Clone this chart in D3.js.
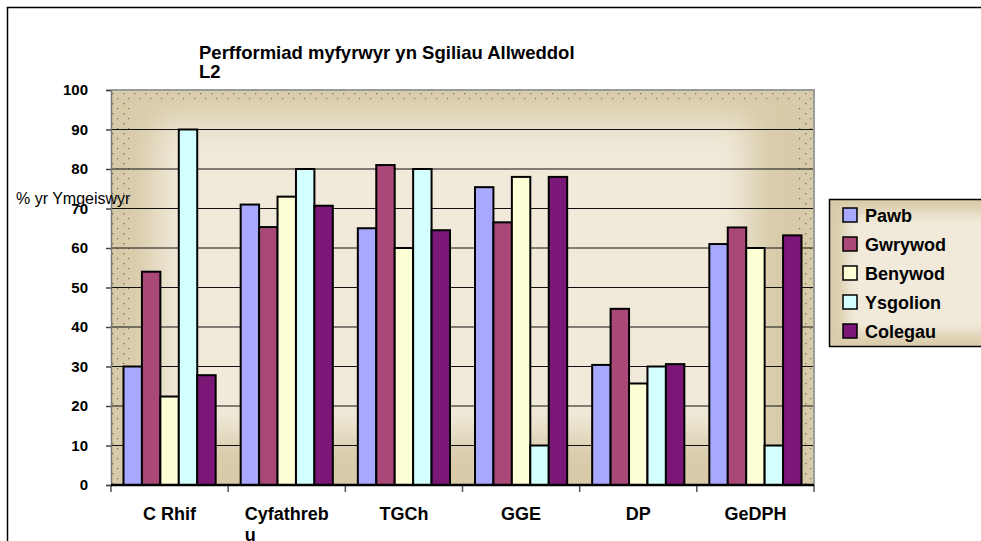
<!DOCTYPE html>
<html><head><meta charset="utf-8">
<script src="https://cdn.jsdelivr.net/npm/d3@7"></script>
<style>
html,body{margin:0;padding:0;background:#fff;}
svg{display:block;font-family:"Liberation Sans",Arial,sans-serif;}
</style></head>
<body>
<svg id="chart" width="981" height="541"></svg>
<script>
const categories = ["C Rhif", "Cyfathrebu", "TGCh", "GGE", "DP", "GeDPH"];
const categoryLines = [["C Rhif"], ["Cyfathreb", "u"], ["TGCh"], ["GGE"], ["DP"], ["GeDPH"]];
const seriesNames = ["Pawb", "Gwrywod", "Benywod", "Ysgolion", "Colegau"];
const seriesColors = ["#A8A8FF", "#AA4878", "#FFFFD5", "#D4FFFF", "#7B1777"];
const pawb     = [30, 71, 65, 75.4, 30.4, 61];
const gwrywod  = [54, 65.3, 81, 66.5, 44.6, 65.2];
const benywod  = [22.4, 73, 60, 78, 25.7, 60];
const ysgolion = [90, 80, 80, 10, 30, 10];
const colegau  = [27.8, 70.7, 64.5, 78, 30.6, 63.2];
const seriesValues = [pawb, gwrywod, benywod, ysgolion, colegau];
const yTicks = [0, 10, 20, 30, 40, 50, 60, 70, 80, 90, 100];
const titleLines = ["Perfformiad myfyrwyr yn Sgiliau Allweddol", "L2"];
const yTitle = "% yr Ymgeiswyr";

const svg = d3.select("#chart");
const L = 111, R = 814, T = 90, B = 485;

const defs = svg.append("defs");
const blur = defs.append("filter").attr("id", "blur").attr("x", "-30%").attr("y", "-30%").attr("width", "160%").attr("height", "160%");
blur.append("feGaussianBlur").attr("stdDeviation", 16);
const blur2 = defs.append("filter").attr("id", "blur2").attr("x", "-30%").attr("y", "-30%").attr("width", "160%").attr("height", "160%");
blur2.append("feGaussianBlur").attr("stdDeviation", 7);
defs.append("clipPath").attr("id", "plotclip").append("rect").attr("x", L).attr("y", T).attr("width", R - L).attr("height", B - T);
defs.append("clipPath").attr("id", "legclip").append("rect").attr("x", 829).attr("y", 199).attr("width", 160).attr("height", 148);
const pat = defs.append("pattern").attr("id", "dots").attr("patternUnits", "userSpaceOnUse").attr("width", 11).attr("height", 10);
pat.append("rect").attr("x", 2).attr("y", 3).attr("width", 1.3).attr("height", 1.3).attr("fill", "#3a3020");
pat.append("rect").attr("x", 7).attr("y", 8).attr("width", 1.2).attr("height", 1.2).attr("fill", "#3a3020");

// outer border
svg.append("path").attr("d", `M7.5,545 V7.5 H990`).attr("fill", "none").attr("stroke", "#000").attr("stroke-width", 1.5);

// plot background
const bg = svg.append("g").attr("clip-path", "url(#plotclip)");
bg.append("rect").attr("x", L).attr("y", T).attr("width", R - L).attr("height", B - T).attr("fill", "#D8CBA9");
bg.append("rect").attr("x", L + 45).attr("y", T + 30).attr("width", R - L - 110).attr("height", B - T - 80)
  .attr("fill", "#F1EADA").attr("filter", "url(#blur)");
// dotted edges
bg.append("rect").attr("x", L).attr("y", T + 2).attr("width", R - L).attr("height", 11).attr("fill", "url(#dots)").attr("opacity", 0.55);
bg.append("rect").attr("x", L).attr("y", T + 12).attr("width", 22).attr("height", B - T - 12).attr("fill", "url(#dots)").attr("opacity", 0.6);
bg.append("rect").attr("x", R - 16).attr("y", T + 12).attr("width", 16).attr("height", B - T - 12).attr("fill", "url(#dots)").attr("opacity", 0.6);

const y = d3.scaleLinear().domain([0, 100]).range([B, T]);
const x0 = d3.scaleBand().domain(categories).range([L, R]).paddingInner(0).paddingOuter(0);
const x1 = d3.scaleBand().domain(seriesNames).range([12.5, x0.bandwidth() - 12.5]).padding(0);

// gridlines
svg.append("g").selectAll("line").data(yTicks.filter(d => d > 0 && d < 100)).join("line")
  .attr("x1", L).attr("x2", R).attr("y1", d => y(d)).attr("y2", d => y(d))
  .attr("stroke", "#111").attr("stroke-width", 1);

// plot border top/right
svg.append("path").attr("d", `M${L},${T} H${R} V${B}`).attr("fill", "none").attr("stroke", "#9a9a9a").attr("stroke-width", 2);

// bars
const groups = svg.append("g").selectAll("g").data(categories).join("g")
  .attr("transform", d => `translate(${x0(d)},0)`);
groups.selectAll("rect").data((c, ci) => seriesNames.map((s, si) => ({ s, si, v: seriesValues[si][ci] }))).join("rect")
  .attr("x", d => x1(d.s)).attr("width", x1.bandwidth())
  .attr("y", d => y(d.v)).attr("height", d => y(0) - y(d.v))
  .attr("fill", d => seriesColors[d.si]).attr("stroke", "#000").attr("stroke-width", 2);

// y axis
const yAxis = svg.append("g").attr("transform", `translate(${L},0)`)
  .call(d3.axisLeft(y).tickValues(yTicks).tickSize(5).tickPadding(18).tickFormat(d3.format("d")));
yAxis.select(".domain").attr("stroke", "#777").attr("stroke-width", 1.5);
yAxis.selectAll(".tick line").attr("stroke", "#444").attr("stroke-width", 1.5);
yAxis.selectAll("text").attr("font-family", "'Liberation Sans',Arial,sans-serif").attr("font-size", 15).attr("font-weight", "bold").attr("fill", "#000");

// x axis
const xTickPos = categories.map(c => x0(c)).concat([R]);
svg.append("g").selectAll("line").data(xTickPos).join("line")
  .attr("x1", d => d).attr("x2", d => d).attr("y1", B).attr("y2", B + 7)
  .attr("stroke", "#555").attr("stroke-width", 1.5);
svg.append("line").attr("x1", L).attr("x2", R).attr("y1", B).attr("y2", B).attr("stroke", "#000").attr("stroke-width", 2.5);

const xl = svg.append("g").selectAll("text").data(categories).join("text")
  .attr("font-size", 18).attr("font-weight", "bold").attr("fill", "#000");
xl.each(function (c, i) {
  const t = d3.select(this);
  const cx = x0(c) + x0.bandwidth() / 2;
  const lines = categoryLines[i];
  t.attr("x", cx).attr("y", 520).attr("text-anchor", "middle").text(lines[0]);
  if (lines.length > 1) {
    const w = this.getComputedTextLength();
    t.text(null);
    t.attr("text-anchor", "start");
    lines.forEach((ln, k) => t.append("tspan").attr("x", cx - w / 2).attr("y", 520 + k * 21).text(ln));
  }
});

// title
svg.append("g").selectAll("text").data(titleLines).join("text")
  .attr("x", 199).attr("y", (d, i) => 59 + i * 19)
  .attr("font-size", 18.5).attr("font-weight", "bold").attr("fill", "#000").text(d => d);

// y title
svg.append("text").attr("x", 16).attr("y", 204).attr("font-size", 16).attr("fill", "#000").text(yTitle);

// legend
const lg = svg.append("g");
const lgb = lg.append("g").attr("clip-path", "url(#legclip)");
lgb.append("rect").attr("x", 829).attr("y", 199).attr("width", 160).attr("height", 148).attr("fill", "#D8CBA9");
lgb.append("rect").attr("x", 845).attr("y", 212).attr("width", 150).attr("height", 122).attr("fill", "#F1EADA").attr("filter", "url(#blur2)");
lg.append("path").attr("d", "M990,199.5 H829.5 V346.5 H990").attr("fill", "none").attr("stroke", "#000").attr("stroke-width", 1.5);
const items = lg.selectAll("g.item").data(seriesNames).join("g").attr("class", "item")
  .attr("transform", (d, i) => `translate(843,${215 + i * 29})`);
items.append("rect").attr("x", 0).attr("y", -7).attr("width", 14).attr("height", 14)
  .attr("fill", (d, i) => seriesColors[i]).attr("stroke", "#000").attr("stroke-width", 1.5);
items.append("text").attr("x", 22).attr("y", 6.5).attr("font-size", 18).attr("font-weight", "bold").attr("fill", "#000").text(d => d);
</script>
</body></html>
